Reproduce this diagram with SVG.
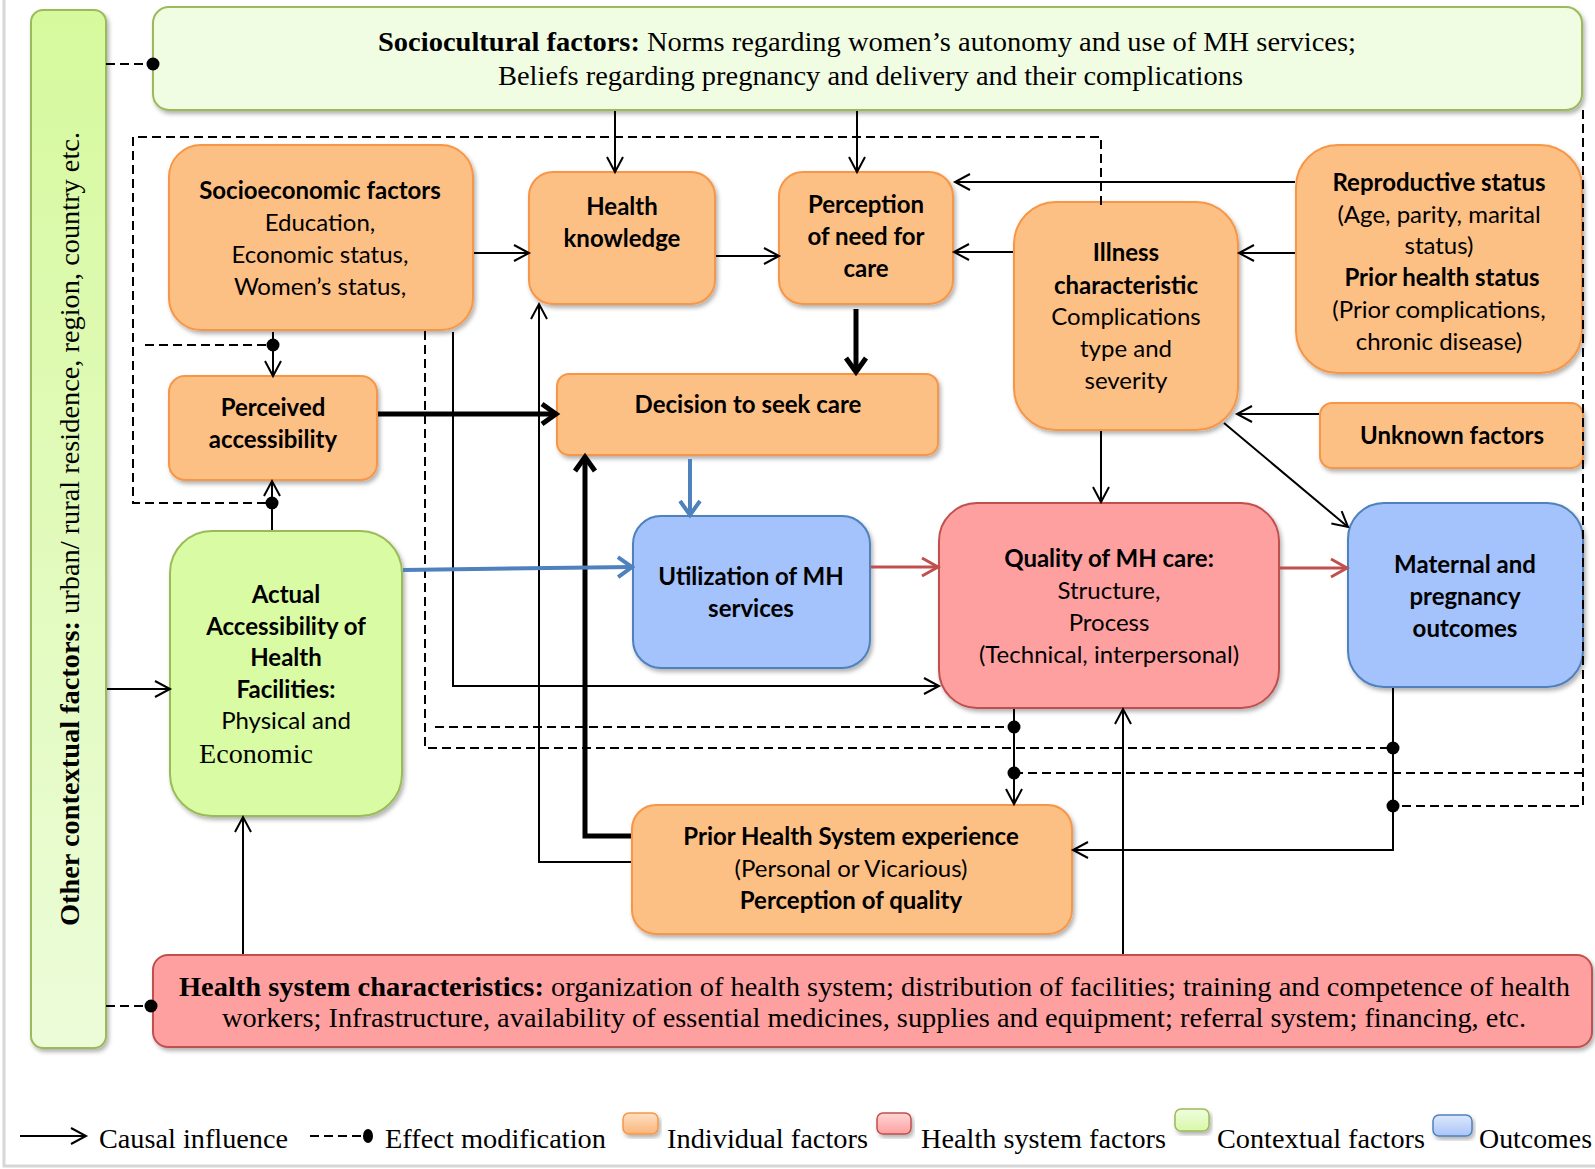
<svg xmlns="http://www.w3.org/2000/svg" width="1595" height="1169" viewBox="0 0 1595 1169">
<defs>
<style>
.b{font-family:Lato,"Open Sans","Liberation Sans",sans-serif;font-weight:bold;font-size:24px;fill:#000;text-anchor:middle}
.r{font-family:Lato,"Open Sans","Liberation Sans",sans-serif;font-size:24px;fill:#000;text-anchor:middle}
.s{font-family:"Liberation Serif","Times New Roman",serif;font-size:28px;fill:#000}
.sb{font-weight:bold}
.or{fill:#fcbf84;stroke:#f79646;stroke-width:2;filter:url(#sh)}
.rd{fill:#fea0a0;stroke:#c0504d;stroke-width:2;filter:url(#sh)}
.bl{fill:#a4c2fc;stroke:#4f81bd;stroke-width:2;filter:url(#sh)}
.gr{fill:#d9fba3;stroke:#9bbb59;stroke-width:2;filter:url(#sh)}
.ln{fill:none;stroke:#000;stroke-width:2}
.th{fill:none;stroke:#000;stroke-width:5}
.bu{fill:none;stroke:#4f81bd;stroke-width:4}
.re{fill:none;stroke:#c0504d;stroke-width:3}
.ds{fill:none;stroke:#000;stroke-width:2;stroke-dasharray:9 5}
</style>
<filter id="sh" x="-10%" y="-10%" width="120%" height="130%">
<feDropShadow dx="2" dy="3" stdDeviation="2" flood-color="#000" flood-opacity="0.3"/>
</filter>
<linearGradient id="barG" x1="0" y1="0" x2="0" y2="1">
<stop offset="0" stop-color="#d6f99d"/><stop offset="1" stop-color="#ecfcd9"/>
</linearGradient>
<linearGradient id="lgO" x1="0" y1="0" x2="0" y2="1"><stop offset="0" stop-color="#fde0c4"/><stop offset="1" stop-color="#fbb57a"/></linearGradient>
<linearGradient id="lgR" x1="0" y1="0" x2="0" y2="1"><stop offset="0" stop-color="#ffd6d6"/><stop offset="1" stop-color="#fda0a0"/></linearGradient>
<linearGradient id="lgG" x1="0" y1="0" x2="0" y2="1"><stop offset="0" stop-color="#effde0"/><stop offset="1" stop-color="#d8f8a8"/></linearGradient>
<linearGradient id="lgB" x1="0" y1="0" x2="0" y2="1"><stop offset="0" stop-color="#dde8fd"/><stop offset="1" stop-color="#a9c4f6"/></linearGradient>
<marker id="arr" markerUnits="userSpaceOnUse" markerWidth="24" markerHeight="24" viewBox="-20 -12 24 24" refX="0" refY="0" orient="auto" overflow="visible">
<path d="M-15,-8 L0,0 L-15,8" fill="none" stroke="#000" stroke-width="2"/>
</marker>
<marker id="arrT" markerUnits="userSpaceOnUse" markerWidth="30" markerHeight="30" viewBox="-24 -15 30 30" refX="0" refY="0" orient="auto" overflow="visible">
<path d="M-14,-10 L0,0 L-14,10" fill="none" stroke="#000" stroke-width="5"/>
</marker>
<marker id="arrB" markerUnits="userSpaceOnUse" markerWidth="30" markerHeight="30" viewBox="-24 -15 30 30" refX="0" refY="0" orient="auto" overflow="visible">
<path d="M-14,-10 L0,0 L-14,10" fill="none" stroke="#4f81bd" stroke-width="4"/>
</marker>
<marker id="arrR" markerUnits="userSpaceOnUse" markerWidth="30" markerHeight="30" viewBox="-24 -15 30 30" refX="0" refY="0" orient="auto" overflow="visible">
<path d="M-16,-9 L0,0 L-16,9" fill="none" stroke="#c0504d" stroke-width="3"/>
</marker>
</defs>

<!-- page frame -->
<path d="M4,0 V1166 H1595" fill="none" stroke="#d6d6d6" stroke-width="3"/>

<!-- contextual bar -->
<g id="other-contextual">
<rect x="31" y="10" width="75" height="1038" rx="12" fill="url(#barG)" stroke="#9bbb59" stroke-width="2" filter="url(#sh)"/>
<text class="s" transform="translate(79,926) rotate(-90)" font-size="29" textLength="794" lengthAdjust="spacingAndGlyphs"><tspan class="sb">Other contextual factors:</tspan> urban/ rural residence, region, country etc.</text>
</g>

<g id="sociocultural">
<rect x="153" y="7" width="1429" height="103" rx="16" fill="#f0fde3" stroke="#9bbb59" stroke-width="2" filter="url(#sh)"/>
<text class="s" x="378" y="51" textLength="978" lengthAdjust="spacingAndGlyphs"><tspan class="sb">Sociocultural factors:</tspan> Norms regarding women’s autonomy and use of MH services;</text>
<text class="s" x="498" y="85" textLength="745" lengthAdjust="spacingAndGlyphs">Beliefs regarding pregnancy and delivery and their complications</text>
</g>

<g id="socioeconomic">
<rect class="or" x="169" y="145" width="304" height="185" rx="32"/>
<text class="b" x="320" y="199">Socioeconomic factors</text>
<text class="r" x="320" y="231">Education,</text>
<text class="r" x="320" y="263">Economic status,</text>
<text class="r" x="320" y="295">Women’s status,</text>
</g>

<g id="health-knowledge">
<rect class="or" x="529" y="172" width="186" height="132" rx="24"/>
<text class="b" x="622" y="215">Health</text>
<text class="b" x="622" y="247">knowledge</text>
</g>

<g id="perception-need">
<rect class="or" x="779" y="172" width="174" height="132" rx="24"/>
<text class="b" x="866" y="213">Perception</text>
<text class="b" x="866" y="245">of need for</text>
<text class="b" x="866" y="277">care</text>
</g>

<g id="illness">
<rect class="or" x="1014" y="202" width="224" height="228" rx="42"/>
<text class="b" x="1126" y="261">Illness</text>
<text class="b" x="1126" y="294">characteristic</text>
<text class="r" x="1126" y="325">Complications</text>
<text class="r" x="1126" y="357">type and</text>
<text class="r" x="1126" y="389">severity</text>
</g>

<g id="reproductive">
<rect class="or" x="1296" y="145" width="286" height="228" rx="42"/>
<text class="b" x="1439" y="191">Reproductive status</text>
<text class="r" x="1439" y="223">(Age, parity, marital</text>
<text class="r" x="1439" y="254">status)</text>
<text class="b" x="1442" y="286">Prior health status</text>
<text class="r" x="1439" y="318">(Prior complications,</text>
<text class="r" x="1439" y="350">chronic disease)</text>
</g>

<g id="unknown">
<rect class="or" x="1320" y="403" width="263" height="65" rx="12"/>
<text class="b" x="1452" y="444">Unknown factors</text>
</g>

<g id="perceived-accessibility">
<rect class="or" x="169" y="376" width="208" height="104" rx="16"/>
<text class="b" x="273" y="416">Perceived</text>
<text class="b" x="273" y="448">accessibility</text>
</g>

<g id="decision">
<rect class="or" x="557" y="374" width="381" height="81" rx="12"/>
<text class="b" x="748" y="413">Decision to seek care</text>
</g>

<g id="actual-accessibility">
<rect class="gr" x="170" y="531" width="232" height="285" rx="42"/>
<text class="b" x="286" y="603">Actual</text>
<text class="b" x="286" y="635">Accessibility of</text>
<text class="b" x="286" y="666">Health</text>
<text class="b" x="286" y="698">Facilities:</text>
<text class="r" x="286" y="729">Physical and</text>
<text class="s" x="199" y="763" font-size="29" textLength="114" lengthAdjust="spacingAndGlyphs">Economic</text>
</g>

<g id="utilization">
<rect class="bl" x="633" y="516" width="237" height="152" rx="28"/>
<text class="b" x="751" y="585">Utilization of MH</text>
<text class="b" x="751" y="617">services</text>
</g>

<g id="quality">
<rect class="rd" x="939" y="503" width="340" height="205" rx="38"/>
<text class="b" x="1109" y="567">Quality of MH care:</text>
<text class="r" x="1109" y="599">Structure,</text>
<text class="r" x="1109" y="631">Process</text>
<text class="r" x="1109" y="663">(Technical, interpersonal)</text>
</g>

<g id="maternal-outcomes">
<rect class="bl" x="1348" y="503" width="235" height="184" rx="36"/>
<text class="b" x="1465" y="573">Maternal and</text>
<text class="b" x="1465" y="605">pregnancy</text>
<text class="b" x="1465" y="637">outcomes</text>
</g>

<g id="prior-experience">
<rect class="or" x="632" y="805" width="440" height="129" rx="24"/>
<text class="b" x="851" y="845">Prior Health System experience</text>
<text class="r" x="851" y="877">(Personal or Vicarious)</text>
<text class="b" x="851" y="909">Perception of quality</text>
</g>

<g id="health-system">
<rect class="rd" x="153" y="955" width="1439" height="92" rx="15"/>
<text class="s" x="179" y="996" font-size="27" textLength="1391" lengthAdjust="spacingAndGlyphs"><tspan class="sb">Health system characteristics:</tspan> organization of health system; distribution of facilities; training and competence of health</text>
<text class="s" x="222" y="1027" font-size="27" textLength="1304" lengthAdjust="spacingAndGlyphs">workers; Infrastructure, availability of essential medicines, supplies and equipment; referral system; financing, etc.</text>
</g>

<!-- connectors, drawn over the boxes so dots and edge-hugging dashes stay visible -->
<g id="connectors">
<!-- effect modification (dashed with dot) -->
<path class="ds" d="M106,64 H153"/>
<path class="ds" d="M106,1006 H151"/>
<path class="ds" d="M1101,205 V137 H133 V503 H272"/>
<path class="ds" d="M145,345 H273"/>
<path class="ds" d="M425,331 V748 H1393"/>
<path class="ds" d="M435,727 H1014"/>
<path class="ds" d="M1583,110 V806 H1393"/>
<path class="ds" d="M1583,773 H1014"/>
<g fill="#000">
<circle cx="153" cy="64" r="6.5"/>
<circle cx="151" cy="1006" r="6.5"/>
<circle cx="272" cy="503" r="6.5"/>
<circle cx="273" cy="345" r="6.5"/>
<circle cx="1393" cy="748" r="6.5"/>
<circle cx="1014" cy="727" r="6.5"/>
<circle cx="1393" cy="806" r="6.5"/>
<circle cx="1014" cy="773" r="6.5"/>
</g>
<!-- causal influence -->
<path class="ln" d="M615,111 V172" marker-end="url(#arr)"/>
<path class="ln" d="M857,111 V172" marker-end="url(#arr)"/>
<path class="ln" d="M474,253 H529" marker-end="url(#arr)"/>
<path class="ln" d="M716,256 H779" marker-end="url(#arr)"/>
<path class="ln" d="M1295,182 H955" marker-end="url(#arr)"/>
<path class="ln" d="M1013,252 H954" marker-end="url(#arr)"/>
<path class="ln" d="M1295,253 H1239" marker-end="url(#arr)"/>
<path class="ln" d="M1319,414 H1237" marker-end="url(#arr)"/>
<path class="ln" d="M273,332 V376" marker-end="url(#arr)"/>
<path class="ln" d="M272,530 V481" marker-end="url(#arr)"/>
<path class="ln" d="M107,689 H170" marker-end="url(#arr)"/>
<path class="ln" d="M243,954 V817" marker-end="url(#arr)"/>
<path class="ln" d="M1101,431 V502" marker-end="url(#arr)"/>
<path class="ln" d="M1224,423 L1348,527" marker-end="url(#arr)"/>
<path class="ln" d="M453,332 V686 H939" marker-end="url(#arr)"/>
<path class="ln" d="M631,862 H539 V304" marker-end="url(#arr)"/>
<path class="ln" d="M1014,709 V804" marker-end="url(#arr)"/>
<path class="ln" d="M1393,688 V850 H1073" marker-end="url(#arr)"/>
<path class="ln" d="M1123,954 V709" marker-end="url(#arr)"/>
<path class="th" d="M856,309 V372" marker-end="url(#arrT)"/>
<path class="th" d="M378,414 H556" marker-end="url(#arrT)"/>
<path class="th" d="M631,836 H585 V457" marker-end="url(#arrT)"/>
<path class="bu" d="M690,459 V515" marker-end="url(#arrB)"/>
<path class="bu" d="M403,570 L632,567" marker-end="url(#arrB)"/>
<path class="re" d="M871,567 H938" marker-end="url(#arrR)"/>
<path class="re" d="M1280,568 H1347" marker-end="url(#arrR)"/>
</g>

<!-- legend -->
<g id="legend">
<path class="ln" d="M20,1136 H86" marker-end="url(#arr)"/>
<text class="s" x="99" y="1148" textLength="189" lengthAdjust="spacingAndGlyphs">Causal influence</text>
<path class="ds" d="M310,1136 H364" stroke-dasharray="6 4"/>
<ellipse cx="368" cy="1136" rx="5" ry="7" fill="#000"/>
<text class="s" x="385" y="1148" textLength="221" lengthAdjust="spacingAndGlyphs">Effect modification</text>
<rect x="623" y="1113" width="35" height="21" rx="6" fill="url(#lgO)" stroke="#f79646" stroke-width="1.5" filter="url(#sh)"/>
<text class="s" x="667" y="1148" textLength="201" lengthAdjust="spacingAndGlyphs">Individual factors</text>
<rect x="877" y="1113" width="34" height="21" rx="6" fill="url(#lgR)" stroke="#c0504d" stroke-width="1.5" filter="url(#sh)"/>
<text class="s" x="921" y="1148" textLength="245" lengthAdjust="spacingAndGlyphs">Health system factors</text>
<rect x="1175" y="1109" width="34" height="22" rx="6" fill="url(#lgG)" stroke="#9bbb59" stroke-width="1.5" filter="url(#sh)"/>
<text class="s" x="1217" y="1148" textLength="208" lengthAdjust="spacingAndGlyphs">Contextual factors</text>
<rect x="1433" y="1115" width="39" height="21" rx="6" fill="url(#lgB)" stroke="#4f81bd" stroke-width="1.5" filter="url(#sh)"/>
<text class="s" x="1479" y="1148" textLength="113" lengthAdjust="spacingAndGlyphs">Outcomes</text>
</g>
</svg>
